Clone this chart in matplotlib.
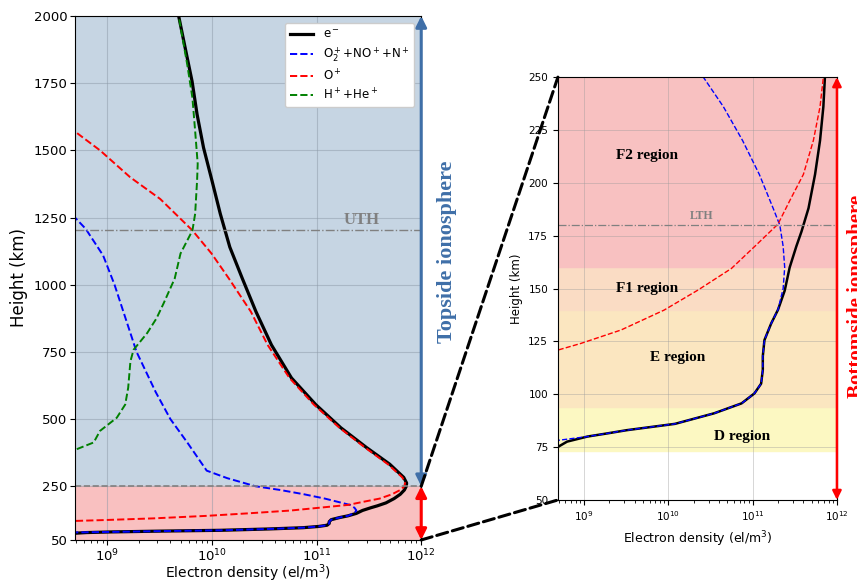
import numpy as np
import matplotlib
matplotlib.use("Agg")
import matplotlib.pyplot as plt
from matplotlib.patches import ConnectionPatch

# electron density profile (km, el/m3)
h_e = [74, 77.6, 80, 81.5, 83, 86, 91, 95.7, 100.4, 105, 111.5, 118, 125.6, 133.5, 140, 149,
       160, 170, 177, 188, 204, 220, 236, 250, 262, 283, 332, 394, 468, 554, 653, 776, 900,
       1023, 1140, 1264, 1387, 1510, 1634, 1757, 1880, 2000]
n_e = [4.4e8, 6.3e8, 1.1e9, 1.9e9, 3.2e9, 1.2e10, 3.5e10, 7.4e10, 1.05e11, 1.26e11, 1.32e11,
       1.32e11, 1.38e11, 1.66e11, 2.0e11, 2.4e11, 2.75e11, 3.3e11, 3.8e11, 4.6e11, 5.5e11,
       6.3e11, 6.9e11, 7.2e11, 7.25e11, 6.8e11, 5.0e11, 3.0e11, 1.7e11, 9.8e10, 5.75e10,
       3.7e10, 2.63e10, 1.95e10, 1.48e10, 1.2e10, 1.0e10, 8.3e9, 7.2e9, 6.45e9, 5.55e9, 4.8e9]

# O2+ + NO+ + N+
h_mol = [78, 80, 81.5, 83, 86, 91, 95.7, 100.4, 105, 111.5, 118, 125.6, 133.5, 140, 150, 160,
         170, 180, 188, 204, 220, 236, 250, 280, 308, 413, 500, 600, 750, 1000, 1109, 1208, 1250]
n_mol = [4.5e8, 1.1e9, 1.9e9, 3.2e9, 1.2e10, 3.5e10, 7.4e10, 1.05e11, 1.26e11, 1.32e11,
         1.32e11, 1.38e11, 1.66e11, 2.0e11, 2.3e11, 2.4e11, 2.3e11, 2.1e11, 1.75e11, 1.2e11,
         7.6e10, 4.5e10, 2.6e10, 1.4e10, 8.9e9, 5.8e9, 4.0e9, 2.9e9, 1.9e9, 1.17e9, 9.1e8,
         6.2e8, 4.9e8]

# O+
h_o = [121, 124, 130.4, 139.8, 149.3, 159.5, 169.8, 180.5, 191.5, 204, 220, 236, 250, 262,
       283, 332, 394, 468, 554, 653, 776, 900, 1023, 1116, 1202, 1319, 1400, 1500, 1570]
n_o = [5.0e8, 9.1e8, 2.75e9, 8.9e9, 2.25e10, 5.6e10, 1.05e11, 2.0e11, 2.75e11, 4.0e11, 5.25e11,
       6.3e11, 6.9e11, 7.0e11, 6.6e11, 4.8e11, 2.9e11, 1.65e11, 9.4e10, 5.5e10, 3.4e10,
       2.35e10, 1.45e10, 9.9e9, 6.5e9, 3.2e9, 1.65e9, 8.5e8, 4.9e8]

# H+ + He+
h_light = [388, 413, 456, 505, 554, 616, 715, 758, 820, 875, 931, 1023, 1116, 1202, 1264,
           1387, 1450, 1572, 1695, 1819, 2000]
n_light = [5.1e8, 7.4e8, 8.5e8, 1.23e9, 1.48e9, 1.58e9, 1.66e9, 1.78e9, 2.4e9, 2.95e9, 3.45e9,
           4.4e9, 5.0e9, 6.5e9, 6.9e9, 7.2e9, 7.3e9, 6.9e9, 6.5e9, 5.8e9, 4.8e9]

labels = ["e$^-$", "O$_2^+$+NO$^+$+N$^+$", "O$^+$", "H$^+$+He$^+$"]

uth, lth, top_base = 1205, 180, 250
regions = [("D region", 73, 94, "#fcf8c2"), ("E region", 94, 140, "#fbe6c0"),
           ("F1 region", 140, 160, "#fadcc4"), ("F2 region", 160, 250, "#f8c1c1")]
region_pos = {"D region": (7.4e10, 80), "E region": (1.3e10, 117.5),
              "F1 region": (5.6e9, 150), "F2 region": (5.6e9, 213)}

serif = "Liberation Serif"
blue_c = "#3f6fa8"

fig = plt.figure(figsize=(8.57, 5.8), dpi=100)
ax1 = fig.add_axes([0.0875, 0.069, 0.404, 0.9034])
ax2 = fig.add_axes([0.651, 0.138, 0.3256, 0.729])

xlim = (4.9e8, 1e12)


def profiles(ax, lw_e, lw_d):
    ax.plot(n_e, h_e, color="black", lw=lw_e, label=labels[0])
    ax.plot(n_mol, h_mol, "--", color="blue", lw=lw_d, label=labels[1])
    ax.plot(n_o, h_o, "--", color="red", lw=lw_d, label=labels[2])
    ax.plot(n_light, h_light, "--", color="green", lw=lw_d, label=labels[3])
    ax.set_xscale("log")
    ax.set_xlim(*xlim)


# ---- left panel: whole profile ----
ax1.axhspan(top_base, 2000, color="#c6d5e3", zorder=0)
ax1.axhspan(50, top_base, color="#f9c0c0", zorder=0)
profiles(ax1, 2.3, 1.4)
ax1.set_ylim(50, 2000)
ax1.set_yticks([50, 250, 500, 750, 1000, 1250, 1500, 1750, 2000])
ax1.axhline(top_base, color="gray", ls="--", lw=1.2)
ax1.axhline(uth, color="gray", ls="-.", lw=1.0)
ax1.text(2.7e11, uth + 35, "UTH", family=serif, weight="bold", color="gray",
         fontsize=12, ha="center", va="center")
ax1.grid(True, color="#8d9aa8", lw=0.8, alpha=0.5)
ax1.tick_params(labelsize=9.5, pad=2)
ax1.set_xlabel("Electron density (el/m$^3$)", fontsize=10, labelpad=-1)
ax1.set_ylabel("Height (km)", fontsize=12, labelpad=4)
ax1.legend(loc="upper right", fontsize=8.5, framealpha=1, borderaxespad=0.6,
           labelspacing=0.35)

ax1.annotate("", xy=(1e12, 2000), xytext=(1e12, top_base), annotation_clip=False,
             arrowprops=dict(arrowstyle="<|-|>", color=blue_c, lw=2.2, mutation_scale=16,
                             shrinkA=0, shrinkB=0))
ax1.annotate("", xy=(1e12, top_base), xytext=(1e12, 50), annotation_clip=False,
             arrowprops=dict(arrowstyle="<|-|>", color="red", lw=2.2, mutation_scale=16,
                             shrinkA=0, shrinkB=0))

# ---- right panel: bottomside zoom ----
for name, lo, hi, col in regions:
    ax2.axhspan(lo, hi, color=col, zorder=0)
    ax2.text(*region_pos[name], name, family=serif, weight="bold", fontsize=11,
             ha="center", va="center")
profiles(ax2, 1.8, 1.0)
ax2.set_ylim(50, 250)
ax2.set_yticks(np.arange(50, 251, 25))
ax2.axhline(lth, color="gray", ls="-.", lw=0.9)
ax2.text(2.5e10, lth + 1.5, "LTH", family=serif, weight="bold", color="gray",
         fontsize=8.5, ha="center", va="bottom")
ax2.grid(True, color="#9a9a9a", lw=0.7, alpha=0.4)
ax2.tick_params(labelsize=7.5)
ax2.set_xlabel("Electron density (el/m$^3$)", fontsize=9)
ax2.set_ylabel("Height (km)", fontsize=8.5)
ax2.annotate("", xy=(1e12, 250), xytext=(1e12, 50), annotation_clip=False,
             arrowprops=dict(arrowstyle="<|-|>", color="red", lw=1.8, mutation_scale=13,
                             shrinkA=0, shrinkB=0))

# dashed zoom connectors
for hh in (250, 50):
    con = ConnectionPatch(xyA=(1e12, hh), coordsA=ax1.transData,
                          xyB=(xlim[0], hh), coordsB=ax2.transData,
                          color="black", ls="--", lw=2.2)
    fig.add_artist(con)

fig.text(447 / 857, 1 - 252 / 580, "Topside ionosphere", rotation=90, family=serif,
         weight="bold", fontsize=16, color=blue_c, ha="center", va="center")
fig.text(857 / 857, 1 - 296 / 580, "Bottomside ionosphere", rotation=90, family=serif,
         weight="bold", fontsize=15, color="red", ha="center", va="center")

fig.savefig("out.png", dpi=100)
